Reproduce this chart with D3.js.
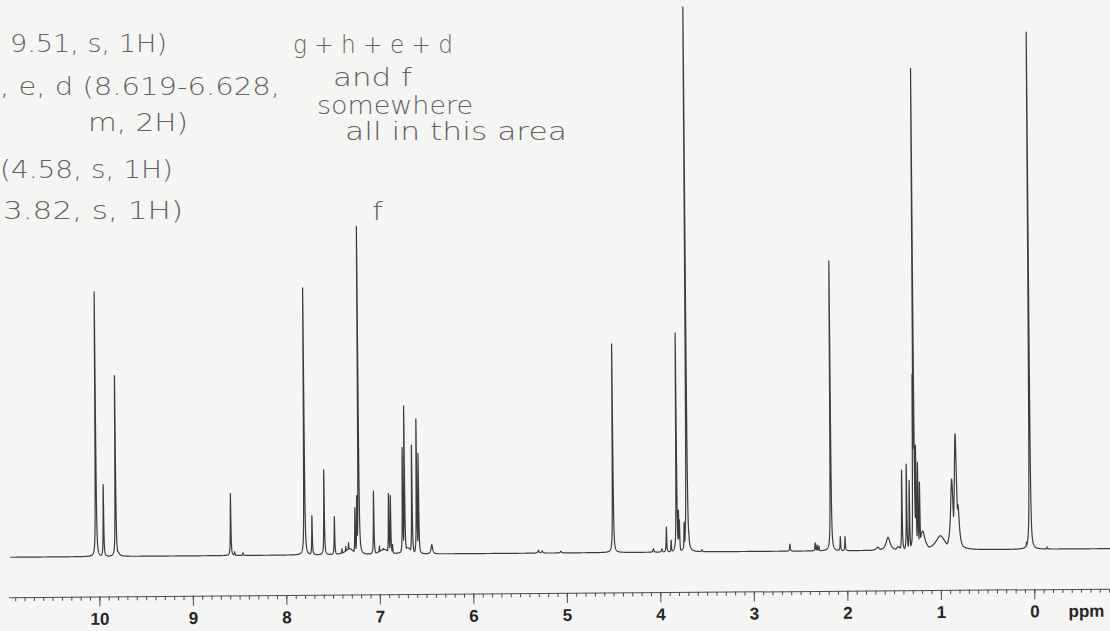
<!DOCTYPE html>
<html>
<head>
<meta charset="utf-8">
<script src="https://cdn.jsdelivr.net/npm/d3@7"></script>
<style>
  html, body { margin: 0; padding: 0; background: #f5f5f3; }
  svg { display: block; }
  .ppmLabel { font-family: "Liberation Sans", Arial, sans-serif; font-weight: bold; font-size: 17px; fill: #262626; }
  .note { font-family: "DejaVu Sans", "Noto Sans", sans-serif; font-weight: 200; font-size: 25px; fill: #626262; }
  .axis path, .axis line { stroke: #4a4a4a; }
</style>
</head>
<body>
<div id="container"></div>
<script>
// peak list: shift (ppm), height (% of the 3.71 singlet), half width (ppm)
var peakPpm = [10.03, 9.95, 9.82, 9.80, 8.59, 8.55, 8.46, 7.80, 7.72, 7.59, 7.48, 7.40, 7.36, 7.33, 7.32,
  7.26, 7.24, 7.22, 7.06, 7.00, 6.96, 6.95, 6.90, 6.88, 6.86, 6.75, 6.73, 6.70, 6.65, 6.60, 6.58, 6.44,
  5.30, 5.26, 5.06, 4.50, 4.07, 3.98, 3.93, 3.88, 3.82, 3.80, 3.79, 3.74, 3.71, 3.69, 3.55,
  2.61, 2.34, 2.32, 2.30, 2.17, 2.07, 2.02, 1.67, 1.56, 1.45, 1.41, 1.36, 1.33, 1.29, 1.28, 1.26,
  1.24, 1.22, 1.19, 1.00, 0.875, 0.835, 0.81, 0.08, 0.04, -0.14];
var peakHeight = [48.6, 13.2, 33.2, 0.9, 11.4, 0.7, 0.5, 49.0, 7.2, 15.6, 7.0, 1.1, 1.5, 2.2, 1.1,
  8.6, 10.8, 60.2, 11.6, 1.5, 1.1, 0.9, 11.2, 10.8, 1.8, 19.6, 27.2, 1.2, 20.0, 24.8, 18.5, 1.7,
  0.5, 0.4, 0.3, 38.3, 0.6, 0.6, 4.6, 2.2, 40.2, 7.7, 5.9, 5.5, 100, 3.7, 0.4,
  1.3, 1.5, 1.1, 0.9, 53.2, 2.6, 2.6, 0.6, 2.4, 0.7, 14.7, 15.8, 12.8, 32.3, 88.4, 19.3,
  16.1, 12.5, 3.5, 2.6, 13.0, 21.3, 8.3, 1.3, 94.9, 0.4];
var peakWidth = [0.0035, 0.0035, 0.0035, 0.02, 0.0035, 0.004, 0.004, 0.0035, 0.0035, 0.0035, 0.0035, 0.004, 0.004, 0.004, 0.05,
  0.0035, 0.0035, 0.0035, 0.0035, 0.004, 0.004, 0.06, 0.0035, 0.0035, 0.004, 0.0035, 0.0035, 0.05, 0.0035, 0.0035, 0.0035, 0.01,
  0.008, 0.008, 0.008, 0.0035, 0.006, 0.006, 0.0035, 0.0035, 0.0035, 0.0035, 0.0035, 0.0035, 0.0035, 0.004, 0.006,
  0.004, 0.004, 0.004, 0.004, 0.0035, 0.0035, 0.0035, 0.02, 0.025, 0.02, 0.0035, 0.0035, 0.0035, 0.0035, 0.0035, 0.004,
  0.004, 0.004, 0.03, 0.06, 0.016, 0.014, 0.016, 0.0035, 0.0035, 0.004];

var majorTicks = [10, 9, 8, 7, 6, 5, 4, 3, 2, 1, 0];
var axisUnit = "ppm";

// handwritten notes on the paper
var noteLeft = ["9.51, s, 1H)", ", e, d (8.619-6.628,", "m, 2H)", "(4.58, s, 1H)", "3.82, s, 1H)"];
var noteRight = ["g + h + e + d", "and f", "somewhere", "all in this area", "f"];

var width = 1110, height = 631;

var svg = d3.select("#container")
  .append("svg")
  .attr("width", width)
  .attr("height", height);

svg.append("rect")
  .attr("width", width)
  .attr("height", height)
  .attr("fill", "#f5f5f3");

var x = d3.scaleLinear().domain([10, 0]).range([99, 1034]);
var y = d3.scaleLinear().domain([0, 100]).range([553, 8]);

// the photographed page is a little tilted
var paper = svg.append("g")
  .attr("transform", "rotate(-0.45, 555, 553)");

// build the trace from the peak list
var peaks = peakPpm.map(function(p, i) {
  return { ppm: p, h: peakHeight[i], w: peakWidth[i] };
});
var shifts = d3.range(10.95, -0.86, -0.001).concat(peakPpm).sort(function(a, b) { return b - a; });
var trace = shifts.map(function(s) {
  var v = 0;
  for (var k = 0; k < peaks.length; k++) {
    var d = (s - peaks[k].ppm) / peaks[k].w;
    var l = peaks[k].h / (1 + d * d);
    if (l > v) v = l;
  }
  return [s, v];
});

var line = d3.line()
  .x(function(d) { return x(d[0]); })
  .y(function(d) { return y(d[1]); });

paper.append("path")
  .datum(trace)
  .attr("fill", "none")
  .attr("stroke", "#3c3c3c")
  .attr("stroke-width", 1.2)
  .attr("stroke-linejoin", "round")
  .attr("d", line);

// axis
var axisY = 593;
var xAxisScale = x.copy().domain([10.97, -0.8]).range([x(10.97), x(-0.8)]);

paper.append("g")
  .attr("class", "axis")
  .attr("transform", "translate(0," + axisY + ")")
  .call(d3.axisBottom(xAxisScale)
    .tickValues(d3.range(-8, 110).map(function(v) { return v / 10; }))
    .tickSize(4)
    .tickSizeOuter(0)
    .tickFormat(""))
  ;

var major = paper.append("g")
  .attr("class", "axis")
  .attr("transform", "translate(0," + axisY + ")")
  .call(d3.axisBottom(xAxisScale)
    .tickValues(majorTicks)
    .tickSize(10)
    .tickSizeOuter(0)
    .tickPadding(6)
    .tickFormat(d3.format("d")));
major.select(".domain").remove();
major.selectAll("text")
  .attr("class", "ppmLabel")
  .attr("fill", null);

paper.append("text")
  .attr("class", "ppmLabel")
  .attr("x", 1086)
  .attr("y", axisY + 16)
  .attr("dy", "0.71em")
  .attr("text-anchor", "middle")
  .text(axisUnit);

// notes
var leftPos = [[10, 52, 157], [0, 95, 280], [88, 131, 100], [0, 178, 173], [3, 219, 180]];
var rightPos = [[293, 53, 160], [333, 86, 79], [317, 114, 156], [345, 140, 222], [372, 220, 11]];

var notes = svg.append("g").attr("class", "notes");
notes.selectAll(".noteLeft")
  .data(noteLeft)
  .enter().append("text")
    .attr("class", "note noteLeft")
    .attr("x", function(d, i) { return leftPos[i][0]; })
    .attr("y", function(d, i) { return leftPos[i][1]; })
    .attr("textLength", function(d, i) { return leftPos[i][2]; })
    .attr("lengthAdjust", "spacingAndGlyphs")
    .text(function(d) { return d; });
notes.selectAll(".noteRight")
  .data(noteRight)
  .enter().append("text")
    .attr("class", "note noteRight")
    .attr("x", function(d, i) { return rightPos[i][0]; })
    .attr("y", function(d, i) { return rightPos[i][1]; })
    .attr("textLength", function(d, i) { return rightPos[i][2]; })
    .attr("lengthAdjust", "spacingAndGlyphs")
    .text(function(d) { return d; });
</script>
</body>
</html>
